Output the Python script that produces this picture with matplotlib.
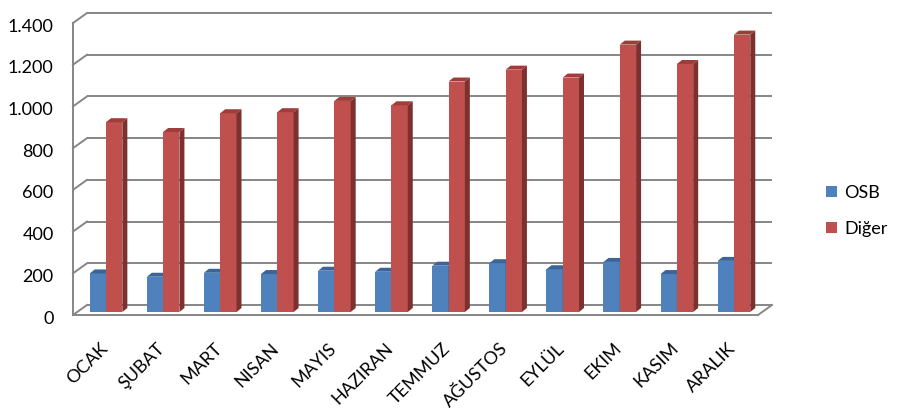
import matplotlib.pyplot as plt
from matplotlib.patches import Patch, Polygon
from matplotlib.transforms import ScaledTranslation

plt.rcParams["font.family"] = ["Lato", "DejaVu Sans"]

# Data
months = ["OCAK", "ŞUBAT", "MART", "NISAN", "MAYIS", "HAZIRAN",
          "TEMMUZ", "AĞUSTOS", "EYLÜL", "EKIM", "KASIM", "ARALIK"]
osb = [185, 169, 188, 182, 198, 193, 222, 234, 205, 240, 182, 245]
diger = [910, 863, 953, 958, 1012, 991, 1105, 1162, 1124, 1282, 1189, 1330]
yticks = [0, 200, 400, 600, 800, 1000, 1200, 1400]

blue, blue_top, blue_side = "#4F81BD", "#3B6597", "#345A87"
red, red_top, red_side = "#C0504D", "#9E3D3A", "#7E302E"
grid_c = "#868686"

W, H = 898, 417
fig = plt.figure(figsize=(W / 100, H / 100), dpi=100)
# front plot area: x 73..758, y 23..315 (pixels from top)
ax = fig.add_axes([73 / W, (H - 315) / H, (758 - 73) / W, (315 - 23) / H])
ax.set_xlim(-0.5, 11.5)
ax.set_ylim(0, 1400)
for s in ax.spines.values():
    s.set_visible(False)
ax.set_xticks([])
ax.set_yticks(yticks, [f"{v:,}".replace(",", ".") for v in yticks])
ax.tick_params(axis="y", length=0, pad=14, labelsize=13, labelcolor="#000000")
for lbl in ax.get_yticklabels():
    lbl.set_transform(lbl.get_transform() + ScaledTranslation(0, -2 / 100, fig.dpi_scale_trans))


def shifted(dx, dy):
    return ax.transData + ScaledTranslation(dx / 100, dy / 100, fig.dpi_scale_trans)


back = shifted(14, 10)
px_x = 12 / 685  # data units per pixel (x)
px_y = 1400 / 292  # data units per pixel (y)

# back wall gridlines + left wall diagonals
for v in yticks:
    ax.plot([-0.5, 11.5], [v, v], color=grid_c, lw=1.4, transform=back,
            clip_on=False, zorder=0, solid_capstyle="butt")
    ax.plot([-0.5, -0.5 + 14 * px_x], [v, v + 10 * px_y], color=grid_c, lw=1.4,
            clip_on=False, zorder=0)
# left axis, floor front edge and right floor corner
ax.plot([-0.5, -0.5], [0, 1400], color=grid_c, lw=1.4, clip_on=False, zorder=0)
ax.plot([-0.5, 11.5], [0, 0], color=grid_c, lw=1.4, clip_on=False, zorder=0)
ax.plot([11.5, 11.5 + 14 * px_x], [0, 10 * px_y], color=grid_c, lw=1.4,
        clip_on=False, zorder=0)

# bars
bw = 16.3 / (685 / 12)
bx, by = 4.5 * px_x, 3 * px_y
dx, dy = 5 * px_x, 4 * px_y
for i in range(len(months)):
    for j, (vals, cf, ct, cs) in enumerate([(osb, blue, blue_top, blue_side),
                                            (diger, red, red_top, red_side)]):
        v = vals[i]
        x0 = i - bw + j * bw + bx
        x1 = x0 + bw
        y0, y1 = by, v + by
        ax.add_patch(Polygon([(x0, y0), (x1, y0), (x1, y1), (x0, y1)],
                             closed=True, fc=cf, ec="none", zorder=3 + i, clip_on=False))
        ax.add_patch(Polygon([(x0, y1), (x1, y1), (x1 + dx, y1 + dy), (x0 + dx, y1 + dy)],
                             closed=True, fc=ct, ec="none", zorder=3 + i, clip_on=False))
        ax.add_patch(Polygon([(x1, y0), (x1 + dx, y0 + dy), (x1 + dx, y1 + dy), (x1, y1)],
                             closed=True, fc=cs, ec="none", zorder=3 + i, clip_on=False))

# category labels
lab_tr = shifted(-2, -25)
for i, m in enumerate(months):
    ax.text(i, 0, m, transform=lab_tr, rotation=45, ha="right", va="top",
            rotation_mode="anchor", fontsize=13, clip_on=False)

handles = [Patch(fc=blue, ec="none"), Patch(fc=red, ec="none")]
fig.legend(handles, ["OSB", "Diğer"], loc="center left",
           bbox_to_anchor=(810 / W, 1 - 211 / H), frameon=False, fontsize=13,
           handlelength=0.6, handleheight=0.6, handletextpad=0.4, labelspacing=1.1)

fig.savefig("out.png", dpi=100)
